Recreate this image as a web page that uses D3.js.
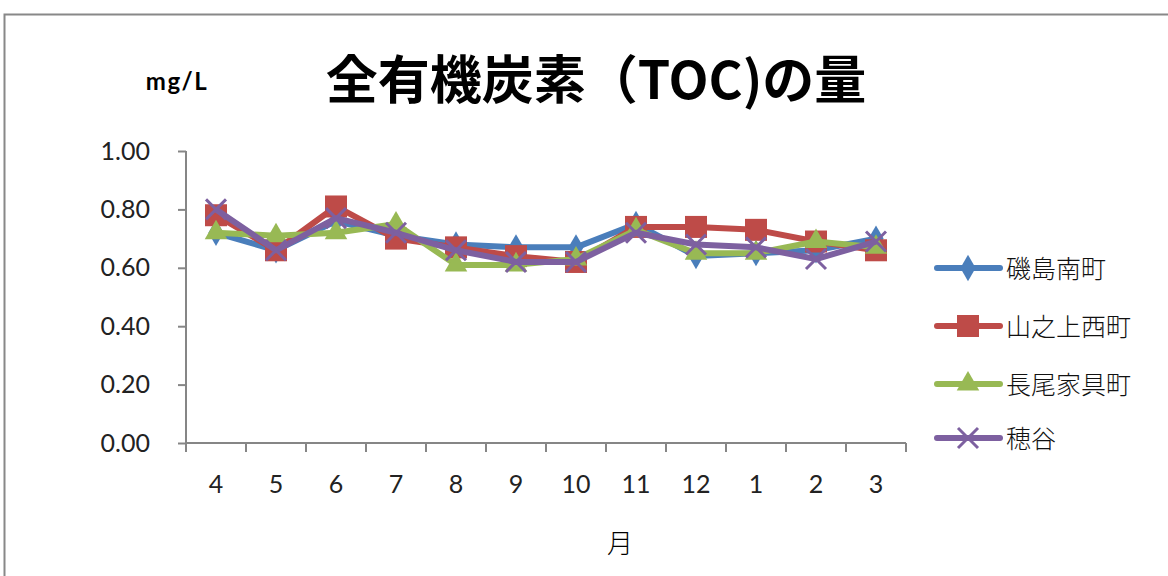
<!DOCTYPE html>
<html>
<head>
<meta charset="utf-8">
<script src="https://cdn.jsdelivr.net/npm/d3@7/dist/d3.min.js"></script>
<style>
  body { margin: 0; background: #fff; }
  text { font-family: "Noto Sans CJK JP", "Liberation Sans", sans-serif; }
</style>
</head>
<body>
<div id="chart"></div>
<script>
var width = 1168, height = 576;

var months = ["4", "5", "6", "7", "8", "9", "10", "11", "12", "1", "2", "3"];
var yTicks = [0, 0.2, 0.4, 0.6, 0.8, 1.0];
var names = ["磯島南町", "山之上西町", "長尾家具町", "穂谷"];
var isojima = [0.72, 0.66, 0.76, 0.71, 0.68, 0.67, 0.67, 0.75, 0.64, 0.65, 0.66, 0.70];
var yamanoue = [0.78, 0.66, 0.81, 0.70, 0.67, 0.64, 0.62, 0.74, 0.74, 0.73, 0.69, 0.66];
var nagao = [0.72, 0.71, 0.72, 0.75, 0.61, 0.61, 0.63, 0.73, 0.65, 0.65, 0.69, 0.67];
var hotani = [0.80, 0.66, 0.77, 0.72, 0.66, 0.62, 0.62, 0.72, 0.68, 0.67, 0.63, 0.69];

var colors = ["#4a7ebb", "#be4b48", "#98b954", "#7d60a0"];
var symbols = ["diamond", "square", "triangle", "x"];
var series = [isojima, yamanoue, nagao, hotani];

var svg = d3.select("#chart").append("svg")
  .attr("width", width)
  .attr("height", height);

// chart frame
svg.append("path")
  .attr("d", "M4.5,576 V14.5 H1168")
  .attr("fill", "none")
  .attr("stroke", "#888")
  .attr("stroke-width", 2);

var x = d3.scaleBand().domain(months).range([186, 906]);
var y = d3.scaleLinear().domain([0, 1]).range([443, 151]);

// y axis
var yAxis = svg.append("g")
  .attr("transform", "translate(186,0)")
  .call(d3.axisLeft(y).tickValues(yTicks).tickFormat(d3.format(".2f")).tickSize(8).tickPadding(28));
yAxis.select(".domain").attr("stroke", "#868686").attr("stroke-width", 2).attr("d", "M0,151V443");
yAxis.selectAll(".tick line").attr("stroke", "#868686").attr("stroke-width", 2);
yAxis.selectAll(".tick text").attr("font-size", 25).attr("fill", "#222")
  .style("font-family", "Lato, sans-serif");

// x axis
var xAxis = svg.append("g")
  .attr("transform", "translate(0,443)")
  .call(d3.axisBottom(x).tickSize(0));
xAxis.select(".domain").attr("stroke", "#868686").attr("stroke-width", 2).attr("d", "M186,0H906");
xAxis.selectAll(".tick text").attr("font-size", 25).attr("fill", "#222")
  .attr("y", 50).attr("dy", 0)
  .style("font-family", "Lato, sans-serif");
xAxis.selectAll(".bnd").data(months.concat(["end"])).enter().append("line")
  .attr("x1", function(d, i) { return 186 + i * x.bandwidth(); })
  .attr("x2", function(d, i) { return 186 + i * x.bandwidth(); })
  .attr("y1", 0).attr("y2", 9)
  .attr("stroke", "#868686").attr("stroke-width", 2);

var line = d3.line()
  .x(function(d, i) { return x(months[i]) + x.bandwidth() / 2; })
  .y(function(d) { return y(d); });

function marker(g, type, color, size) {
  if (type === "diamond") {
    g.append("path").attr("d", d3.symbol(d3.symbolDiamond, size * 10)()).attr("fill", color);
  } else if (type === "square") {
    g.append("rect").attr("x", -size / 2).attr("y", -size / 2)
      .attr("width", size).attr("height", size).attr("fill", color);
  } else if (type === "triangle") {
    g.append("path").attr("d", d3.symbol(d3.symbolTriangle, size * 11)()).attr("fill", color);
  } else {
    var h = size / 2;
    g.append("path").attr("d", "M" + -h + "," + -h + "L" + h + "," + h + "M" + -h + "," + h + "L" + h + "," + -h)
      .attr("stroke", color).attr("stroke-width", 3);
  }
}

series.forEach(function(vals, s) {
  svg.append("path")
    .datum(vals)
    .attr("fill", "none")
    .attr("stroke", colors[s])
    .attr("stroke-width", 6)
    .attr("stroke-linejoin", "round")
    .attr("d", line);
  vals.forEach(function(v, i) {
    var g = svg.append("g")
      .attr("transform", "translate(" + (x(months[i]) + x.bandwidth() / 2) + "," + y(v) + ")");
    marker(g, symbols[s], colors[s], s === 1 ? 22 : 20);
  });
});

// legend
var legY = [268, 326, 384, 438];
names.forEach(function(n, i) {
  var g = svg.append("g").attr("transform", "translate(0," + legY[i] + ")");
  g.append("line").attr("x1", 937).attr("x2", 1000).attr("stroke", colors[i])
    .attr("stroke-width", 6).attr("stroke-linecap", "round");
  var mg = g.append("g").attr("transform", "translate(968,0)");
  marker(mg, symbols[i], colors[i], i === 1 ? 22 : 20);
  g.append("text").attr("x", 1006).attr("y", 10).attr("font-size", 25)
    .attr("font-weight", 300).attr("fill", "#111").text(n);
});

// titles
svg.append("text").attr("x", 596).attr("y", 99).attr("text-anchor", "middle")
  .attr("font-size", 52).attr("font-weight", "bold").attr("fill", "#000")
  .text("全有機炭素（TOC)の量");
svg.append("text").attr("x", 177).attr("y", 90).attr("text-anchor", "middle")
  .attr("font-size", 24).attr("font-weight", "bold").attr("fill", "#000")
  .attr("letter-spacing", 1.5)
  .style("font-family", "Lato, sans-serif")
  .text("mg/L");
svg.append("text").attr("x", 620).attr("y", 553).attr("text-anchor", "middle")
  .attr("font-size", 26).attr("font-weight", 300).attr("fill", "#000")
  .text("月");
</script>
</body>
</html>
